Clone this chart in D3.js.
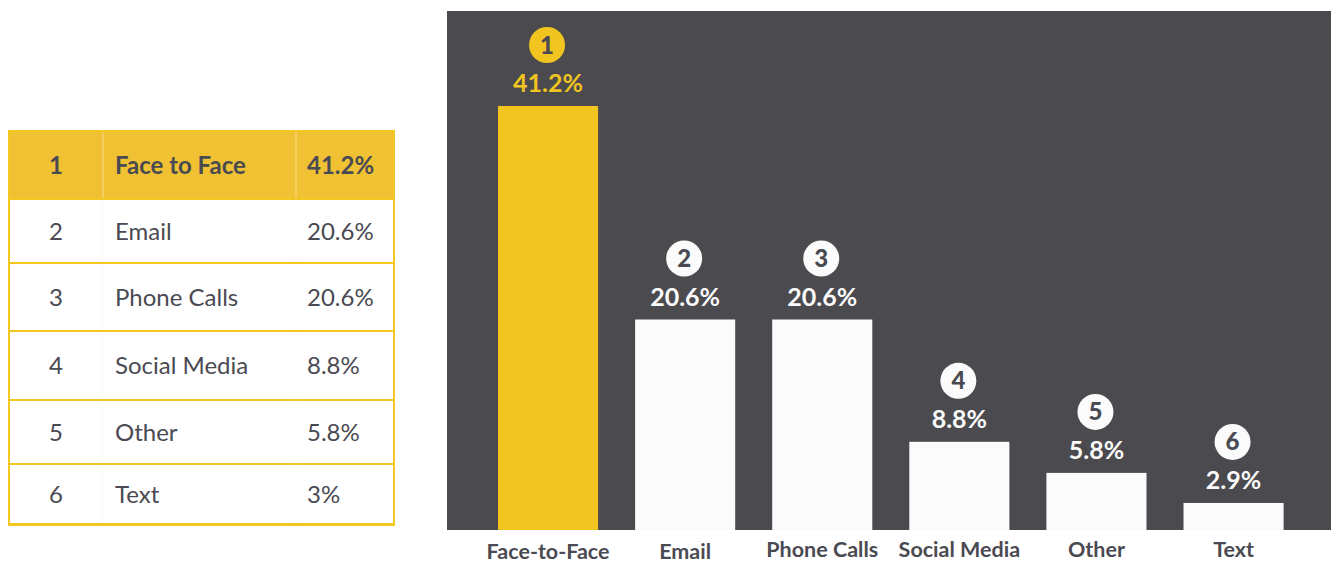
<!DOCTYPE html>
<html>
<head>
<meta charset="utf-8">
<script src="https://cdn.jsdelivr.net/npm/d3@7"></script>
<style>
  html, body { margin: 0; padding: 0; background: #ffffff; }
  svg { display: block; font-family: Lato, "Open Sans", sans-serif; }
</style>
</head>
<body>
<svg id="chart" width="1331" height="564"></svg>
<script>
// Communication channel shares
const ranks = [1, 2, 3, 4, 5, 6];
const tableNames = ["Face to Face", "Email", "Phone Calls", "Social Media", "Other", "Text"];
const tableLabels = ["41.2%", "20.6%", "20.6%", "8.8%", "5.8%", "3%"];
const barCategories = ["Face-to-Face", "Email", "Phone Calls", "Social Media", "Other", "Text"];
const barValues = [41.2, 20.6, 20.6, 8.8, 5.8, 2.9];

const YELLOW = "#f2c41f";
const HEADER = "#f0c233";
const BORDER = "#f5c722";
const INK = "#4a4a52";
const PANEL = "#4b4a4f";
const WHITE = "#fbfbfb";

const svg = d3.select("#chart");

// ---------- Ranking table ----------
const table = { x0: 8, x1: 395, rowEdges: [131, 199, 263, 331, 400, 464, 525] };
const colX = { rank: 56, name: 115, value: 307 };
const tg = svg.append("g");

const rows = ranks.map((r, i) => ({
  rank: r, name: tableNames[i], label: tableLabels[i],
  y0: table.rowEdges[i], y1: table.rowEdges[i + 1]
}));

tg.selectAll("rect.row").data(rows).join("rect")
  .attr("class", "row")
  .attr("x", table.x0)
  .attr("y", d => d.y0)
  .attr("width", table.x1 - table.x0)
  .attr("height", d => d.y1 - d.y0)
  .attr("fill", (d, i) => i === 0 ? HEADER : "#ffffff");

// faint column separators
[103, 296].forEach(x => {
  tg.append("line")
    .attr("x1", x).attr("x2", x)
    .attr("y1", table.rowEdges[0]).attr("y2", table.rowEdges[6])
    .attr("stroke", "#fbf7ea").attr("stroke-opacity", 0.5).attr("stroke-width", 1);
});

// row borders
tg.selectAll("line.hr").data(table.rowEdges.slice(1)).join("line")
  .attr("class", "hr")
  .attr("x1", table.x0).attr("x2", table.x1)
  .attr("y1", d => d).attr("y2", d => d)
  .attr("stroke", BORDER).attr("stroke-width", 2);
tg.append("rect")
  .attr("x", table.x0 + 1).attr("y", table.rowEdges[0])
  .attr("width", table.x1 - table.x0 - 2)
  .attr("height", table.rowEdges[6] - table.rowEdges[0] - 1)
  .attr("fill", "none").attr("stroke", BORDER).attr("stroke-width", 2);

const cells = tg.selectAll("g.cells").data(rows).join("g").attr("class", "cells")
  .attr("transform", d => `translate(0,${(d.y0 + d.y1) / 2 + 8.5})`)
  .attr("font-size", 24)
  .attr("fill", INK)
  .attr("font-weight", (d, i) => i === 0 ? 700 : 400);
cells.append("text").attr("x", colX.rank).attr("text-anchor", "middle").text(d => d.rank);
cells.append("text").attr("x", colX.name).text(d => d.name);
cells.append("text").attr("x", colX.value).text(d => d.label);

// ---------- Bar chart ----------
const panel = { x0: 447, x1: 1331, y0: 11, y1: 530 };
svg.append("rect")
  .attr("x", panel.x0).attr("y", panel.y0)
  .attr("width", panel.x1 - panel.x0).attr("height", panel.y1 - panel.y0)
  .attr("fill", PANEL);

const x = d3.scaleBand()
  .domain(barCategories)
  .range([447, 1334.6])
  .paddingInner(0.27)
  .paddingOuter(0.372);

const y = d3.scaleLinear()
  .domain([0, d3.max(barValues)])
  .range([533, 106]);

svg.append("clipPath").attr("id", "panelClip")
  .append("rect")
  .attr("x", panel.x0).attr("y", panel.y0)
  .attr("width", panel.x1 - panel.x0).attr("height", panel.y1 - panel.y0);

const bars = barCategories.map((c, i) => ({ cat: c, value: barValues[i], rank: ranks[i], i }));

svg.append("g").attr("clip-path", "url(#panelClip)")
  .selectAll("rect").data(bars).join("rect")
  .attr("x", d => x(d.cat))
  .attr("y", d => y(d.value))
  .attr("width", x.bandwidth())
  .attr("height", d => y(0) - y(d.value))
  .attr("fill", d => d.i === 0 ? YELLOW : WHITE);

const lab = svg.append("g").selectAll("g").data(bars).join("g")
  .attr("transform", d => `translate(${x(d.cat) + x.bandwidth() / 2},${y(d.value)})`);

lab.append("circle")
  .attr("cx", -1)
  .attr("cy", -61)
  .attr("r", 18)
  .attr("fill", d => d.i === 0 ? YELLOW : WHITE);
lab.append("text")
  .attr("x", -1)
  .attr("y", -52.5)
  .attr("text-anchor", "middle")
  .attr("font-size", 24)
  .attr("font-weight", 900)
  .attr("fill", INK)
  .text(d => d.rank);
lab.append("text")
  .attr("y", -14)
  .attr("text-anchor", "middle")
  .attr("font-size", 25)
  .attr("font-weight", 700)
  .attr("fill", d => d.i === 0 ? YELLOW : WHITE)
  .text(d => d3.format(".1f")(d.value) + "%");

// category axis below the panel
const xAxis = svg.append("g")
  .attr("transform", `translate(0,${panel.y1})`)
  .call(d3.axisBottom(x).tickSize(0).tickPadding(0));
xAxis.select(".domain").remove();
xAxis.selectAll("text")
  .attr("y", (d, i) => i < 2 ? 29 : 27)
  .attr("dy", 0)
  .attr("font-family", "Lato, sans-serif")
  .attr("font-size", 21.5)
  .attr("font-weight", 700)
  .attr("fill", INK);
</script>
</body>
</html>
